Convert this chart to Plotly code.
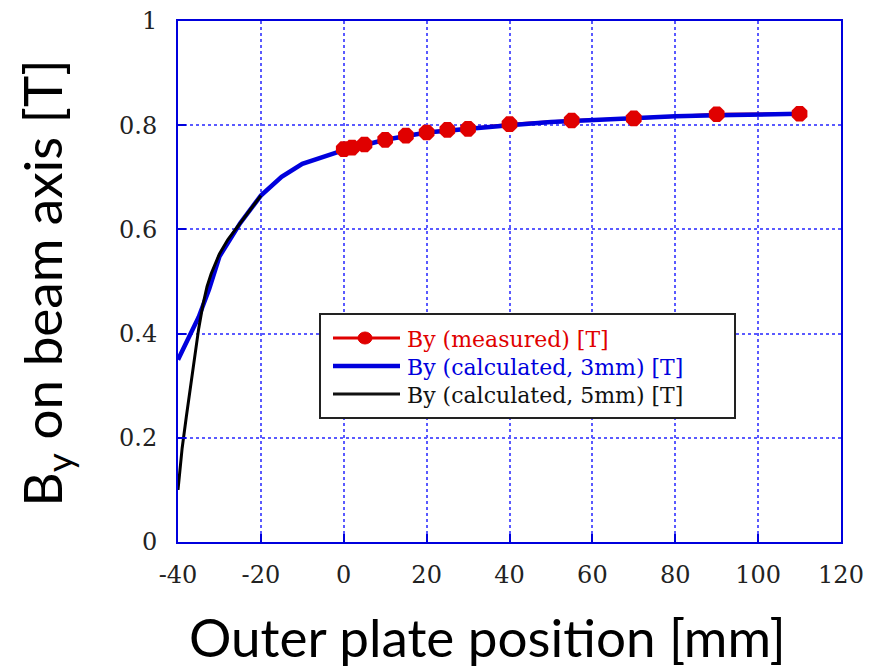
import plotly.graph_objects as go

# Measured points
meas_x = [0, 2, 5, 10, 15, 20, 25, 30, 40, 55, 70, 90, 110]
meas_y = [0.754, 0.757, 0.763, 0.772, 0.780, 0.786, 0.791, 0.793, 0.802, 0.809, 0.813, 0.821, 0.822]

# Calculated, 3mm
calc3_x = [-40, -37.5, -35, -32.5, -30, -27.5, -25, -20, -15, -10, -5, 0, 5, 10, 20, 30,
           40, 50, 60, 70, 80, 90, 100, 110]
calc3_y = [0.35, 0.393, 0.432, 0.485, 0.548, 0.58, 0.612, 0.665, 0.701, 0.726, 0.740, 0.752,
           0.762, 0.772, 0.786, 0.794, 0.800, 0.806, 0.810, 0.813, 0.817, 0.819, 0.820, 0.822]

# Calculated, 5mm
calc5_x = [-40, -39, -38, -37, -36, -35, -34, -33, -32, -31, -30, -28, -25, -20]
calc5_y = [0.10, 0.18, 0.24, 0.30, 0.36, 0.41, 0.455, 0.49, 0.515, 0.535, 0.553, 0.58, 0.612, 0.665]

series_names = ["By (measured) [T]", "By (calculated, 3mm) [T]", "By (calculated, 5mm) [T]"]

x_ticks = [-40, -20, 0, 20, 40, 60, 80, 100, 120]
y_ticks = [0, 0.2, 0.4, 0.6, 0.8, 1]
y_tick_text = ["0", "0.2", "0.4", "0.6", "0.8", "1"]

RED = "#e00000"
BLUE = "#0000dd"
BLACK = "#000000"
GRID = "#5a5aff"

# figure geometry (px) - the page body adds an 8px offset
W, H = 876, 659
ML, MR, MT, MB = 170, 43, 13, 125
PW, PH = W - ML - MR, H - MT - MB
OFF = 8


def px(xw):
    return (xw - OFF - ML) / PW


def py(yw):
    return 1 - (yw - OFF - MT) / PH


fig = go.Figure()
fig.add_trace(go.Scatter(
    x=meas_x, y=meas_y, mode="lines", name=series_names[0], showlegend=False,
    line=dict(color=RED, width=3),
))
fig.add_trace(go.Scatter(
    x=calc3_x, y=calc3_y, mode="lines", name=series_names[1], showlegend=False,
    line=dict(color=BLUE, width=4.5),
))
fig.add_trace(go.Scatter(
    x=calc5_x, y=calc5_y, mode="lines", name=series_names[2], showlegend=False,
    line=dict(color=BLACK, width=3),
))
fig.add_trace(go.Scatter(
    x=meas_x, y=meas_y, mode="markers", name=series_names[0], showlegend=False,
    marker=dict(color=RED, size=17, symbol="octagon"),
))

# custom legend (box, samples, labels)
box_l, box_r, box_t, box_b = 320, 735, 314, 418
rows_y = [338, 366, 394]
row_colors = [RED, BLUE, "#111111"]
row_widths = [3, 4.5, 3]
shapes = [dict(type="rect", xref="paper", yref="paper", layer="above",
               x0=px(box_l), x1=px(box_r), y0=py(box_b), y1=py(box_t),
               fillcolor="white", line=dict(color="#222222", width=2))]
annotations = []
for name, yy, col, lw in zip(series_names, rows_y, row_colors, row_widths):
    shapes.append(dict(type="line", xref="paper", yref="paper", layer="above",
                       x0=px(333), x1=px(400), y0=py(yy), y1=py(yy),
                       line=dict(color=col, width=lw)))
    annotations.append(dict(text=name, xref="paper", yref="paper",
                            x=px(405), y=py(yy + 1), xanchor="left", yanchor="middle",
                            showarrow=False,
                            font=dict(family="DejaVu Serif", size=22, color=col)))
# marker sample on the measured row
shapes.append(dict(type="circle", xref="paper", yref="paper", layer="above",
                   x0=px(358), x1=px(372), y0=py(rows_y[0] + 6), y1=py(rows_y[0] - 6),
                   fillcolor=RED, line=dict(color=RED, width=1)))

annotations += [
    dict(text="Outer plate position [mm]", xref="paper", yref="paper",
         x=0.467, y=-0.182, xanchor="center", yanchor="middle", showarrow=False,
         font=dict(family="Lato", size=53, color="#000000")),
    dict(text="B<sub>y</sub> on beam axis [T]", xref="paper", yref="paper",
         x=-0.2, y=0.497, xanchor="center", yanchor="middle", showarrow=False,
         textangle=-90, font=dict(family="Lato", size=53, color="#000000")),
]

tick_font = dict(family="DejaVu Serif", size=24, color="#222222")

fig.update_layout(
    width=W, height=H,
    margin=dict(l=ML, r=MR, t=MT, b=MB, autoexpand=False),
    paper_bgcolor="white", plot_bgcolor="white",
    showlegend=False,
    xaxis=dict(
        range=[-40, 120], tickvals=x_ticks, ticktext=[str(v) for v in x_ticks],
        showgrid=True, gridcolor=GRID, griddash="dot", gridwidth=1.5,
        showline=True, linecolor=BLUE, linewidth=2, mirror=True,
        ticks="inside", ticklen=8, tickcolor=BLUE, tickwidth=2,
        tickfont=tick_font, zeroline=False, ticklabelstandoff=10,
        ticklabeloverflow="allow", automargin=False,
    ),
    yaxis=dict(
        range=[0, 1], tickvals=y_ticks, ticktext=y_tick_text,
        showgrid=True, gridcolor=GRID, griddash="dot", gridwidth=1.5,
        showline=True, linecolor=BLUE, linewidth=2, mirror=True,
        ticks="inside", ticklen=8, tickcolor=BLUE, tickwidth=2,
        tickfont=tick_font, zeroline=False, ticklabelstandoff=14,
        ticklabeloverflow="allow", automargin=False,
    ),
    shapes=shapes,
    annotations=annotations,
)

fig.write_html("out.html")
